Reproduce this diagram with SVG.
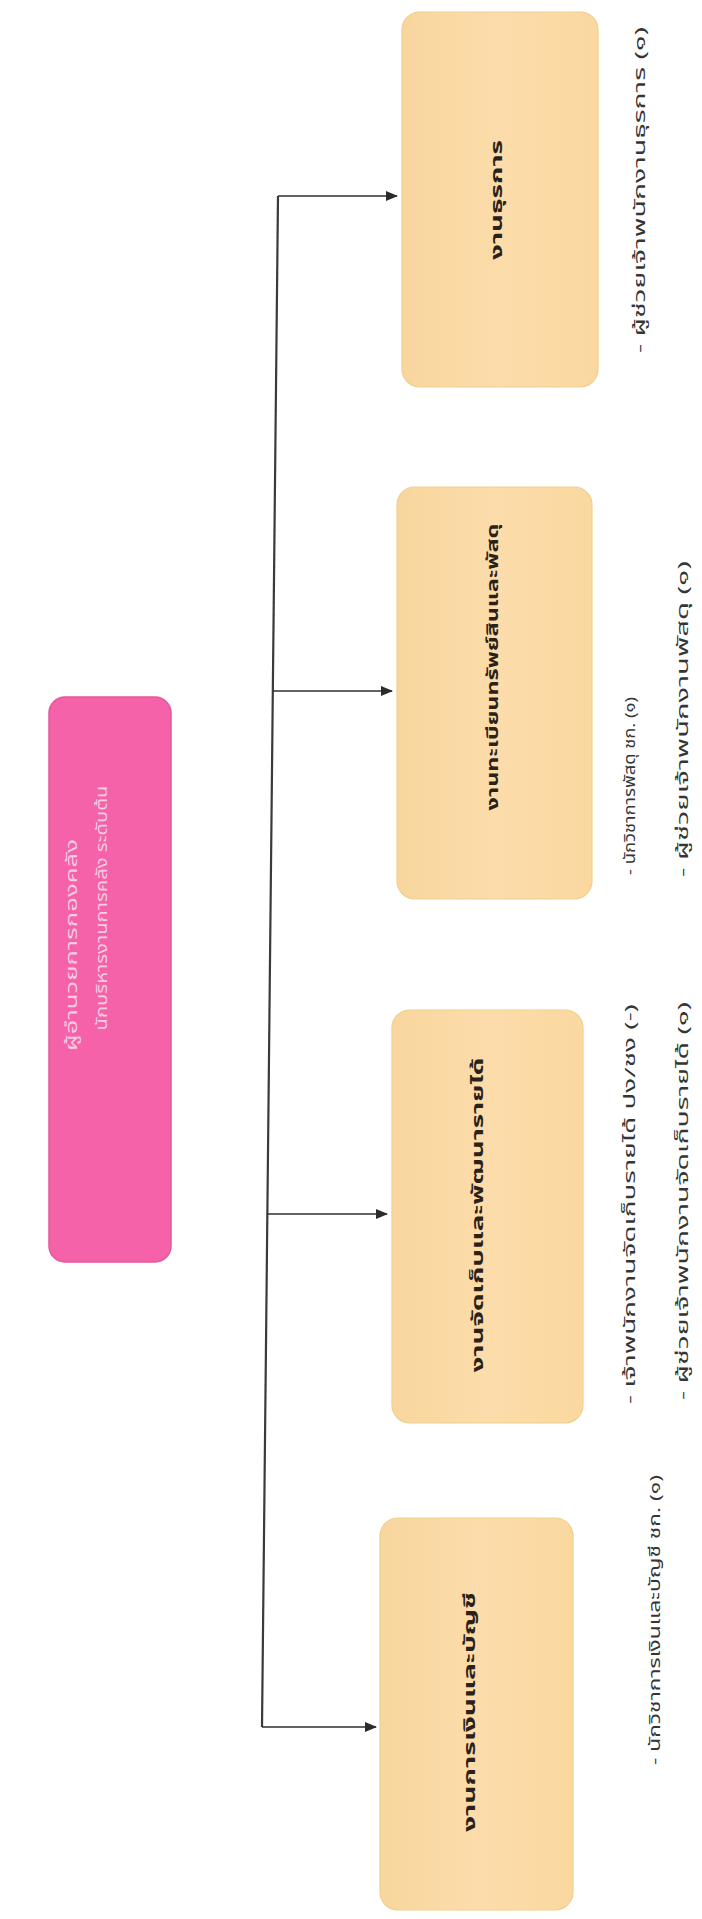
<svg xmlns="http://www.w3.org/2000/svg" width="702" height="1919" viewBox="0 0 702 1919">
<defs>
<linearGradient id="boxg" x1="0" y1="0" x2="1" y2="0">
<stop offset="0" stop-color="#f8d69e"/>
<stop offset="0.5" stop-color="#fcdcaa"/>
<stop offset="1" stop-color="#fad8a0"/>
</linearGradient>
<marker id="arr" viewBox="0 0 12 10" refX="11" refY="5" markerWidth="12" markerHeight="10" markerUnits="userSpaceOnUse" orient="auto">
<path d="M0,0 L12,5 L0,10 Z" fill="#2b2b2b"/>
</marker>
</defs>
<style>
.box{fill:url(#boxg);stroke:#f0cf8e;stroke-width:1.2}
.pink{fill:#f662a9;stroke:#e2589b;stroke-width:1.5}
.title{font-family:'Noto Sans Thai','Loma','Garuda','DejaVu Sans',sans-serif;font-size:16px;font-weight:bold;fill:#2a2219;text-anchor:middle;dominant-baseline:central}
.ptext{font-family:'Noto Sans Thai','Loma','Garuda','DejaVu Sans',sans-serif;font-size:16px;fill:#f7cde3;text-anchor:middle;dominant-baseline:central}
.list{font-family:'Noto Sans Thai','Loma','Garuda','DejaVu Sans',sans-serif;font-size:15px;fill:#353535;text-anchor:start;dominant-baseline:central}
.conn{stroke:#2f2f2f;stroke-width:1.6;fill:none}
.trunk{stroke:#3a3a3a;stroke-width:2.2;fill:none}
</style>
<rect width="702" height="1919" fill="#ffffff"/>

<g id="connectors">
<line class="trunk" x1="278" y1="196" x2="262" y2="1727"/>
<line class="conn" x1="278" y1="196" x2="397" y2="196" marker-end="url(#arr)"/>
<line class="conn" x1="273" y1="691" x2="392" y2="691" marker-end="url(#arr)"/>
<line class="conn" x1="267" y1="1214" x2="387" y2="1214" marker-end="url(#arr)"/>
<line class="conn" x1="262" y1="1727" x2="376" y2="1727" marker-end="url(#arr)"/>
</g>

<g id="director">
<rect class="pink" x="49" y="697" width="122" height="565" rx="16"/>
<text class="ptext" transform="translate(72,945) rotate(-90)" textLength="212" lengthAdjust="spacingAndGlyphs">ผู้อำนวยการกองคลัง</text>
<text class="ptext" transform="translate(102,908) rotate(-90)" textLength="245" lengthAdjust="spacingAndGlyphs">นักบริหารงานการคลัง ระดับต้น</text>
</g>

<g id="admin">
<rect class="box" x="402" y="12" width="196" height="375" rx="18"/>
<text class="title" transform="translate(497,200) rotate(-90)" textLength="120" lengthAdjust="spacingAndGlyphs">งานธุรการ</text>
<text class="list" transform="translate(640,353) rotate(-90)" textLength="326" lengthAdjust="spacingAndGlyphs">- ผู้ช่วยเจ้าพนักงานธุรการ (๑)</text>
</g>

<g id="assets">
<rect class="box" x="397" y="487" width="195" height="412" rx="18"/>
<text class="title" transform="translate(493,667) rotate(-90)" textLength="287" lengthAdjust="spacingAndGlyphs">งานทะเบียนทรัพย์สินและพัสดุ</text>
<text class="list" transform="translate(630,875) rotate(-90)" textLength="178" lengthAdjust="spacingAndGlyphs">- นักวิชาการพัสดุ ชก. (๑)</text>
<text class="list" transform="translate(683,877) rotate(-90)" textLength="316" lengthAdjust="spacingAndGlyphs">- ผู้ช่วยเจ้าพนักงานพัสดุ (๑)</text>
</g>

<g id="revenue">
<rect class="box" x="392" y="1010" width="191" height="413" rx="18"/>
<text class="title" transform="translate(478,1215) rotate(-90)" textLength="315" lengthAdjust="spacingAndGlyphs">งานจัดเก็บและพัฒนารายได้</text>
<text class="list" transform="translate(630,1404) rotate(-90)" textLength="400" lengthAdjust="spacingAndGlyphs">- เจ้าพนักงานจัดเก็บรายได้ ปง/ชง (-)</text>
<text class="list" transform="translate(683,1400) rotate(-90)" textLength="398" lengthAdjust="spacingAndGlyphs">- ผู้ช่วยเจ้าพนักงานจัดเก็บรายได้ (๑)</text>
</g>

<g id="finance">
<rect class="box" x="380" y="1518" width="193" height="392" rx="18"/>
<text class="title" transform="translate(470,1712) rotate(-90)" textLength="240" lengthAdjust="spacingAndGlyphs">งานการเงินและบัญชี</text>
<text class="list" transform="translate(655,1765) rotate(-90)" textLength="290" lengthAdjust="spacingAndGlyphs">- นักวิชาการเงินและบัญชี ชก. (๑)</text>
</g>
</svg>
